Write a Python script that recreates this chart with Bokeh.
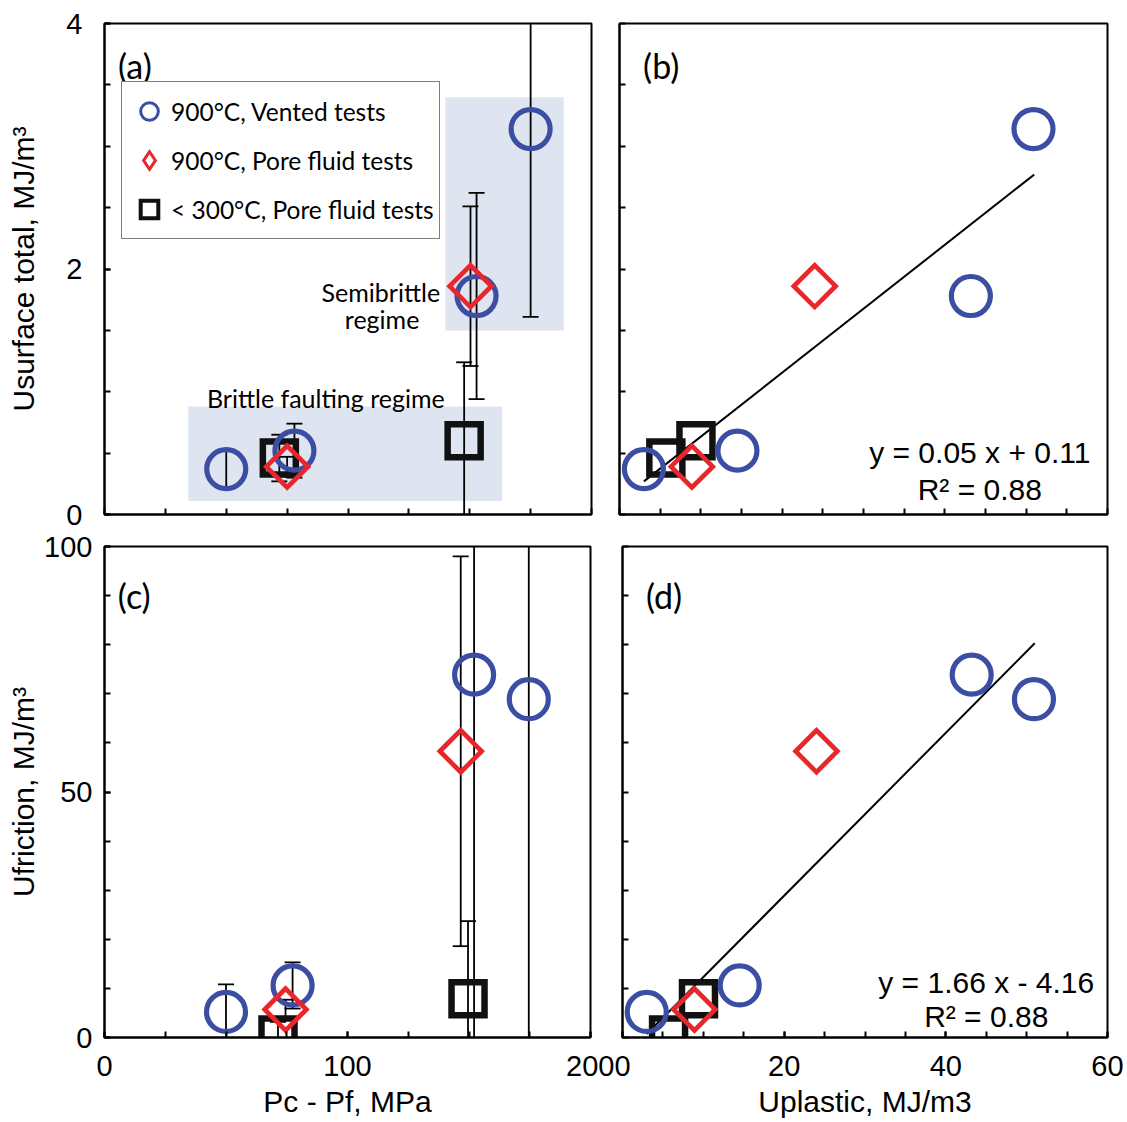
import numpy as np
from bokeh.plotting import figure
from bokeh.models import Range1d, FixedTicker, Legend, LegendItem
from bokeh.layouts import column, row
from bokeh.embed import file_html
from bokeh.resources import INLINE
from bokeh.core.properties import value

# ---------------- data ----------------
# Panel (a): Usurface total (MJ/m3) vs Pc - Pf (MPa)
vent_pcpf_a = [50, 78, 152.8, 175]
vent_usurf = [0.37, 0.52, 1.78, 3.14]
vent_usurf_err = [0.15, 0.22, 0.84, 1.53]
pore_pcpf_a = [75, 150.3]
pore_usurf = [0.39, 1.86]
pore_usurf_err = [0.08, 0.65]
cold_pcpf_a = [71.8, 147.7]
cold_usurf = [0.46, 0.60]
cold_usurf_err = [0.19, 0.64]

# Panel (c): Ufriction (MJ/m3) vs Pc - Pf (MPa)
vent_pcpf_c = [50, 77.4, 152.1, 174.6]
vent_ufric = [5.2, 10.6, 73.9, 68.9]
vent_ufric_err = [5.6, 4.7, 110, 110]
pore_pcpf_c = [74.5, 146.6]
pore_ufric = [5.7, 58.3]
pore_ufric_err = [2.0, 39.7]
cold_pcpf_c = [71.4, 149.6]
cold_ufric = [0.5, 7.9]
cold_ufric_err = [2.7, 15.8]

# Panels (b), (d): x = Uplastic (MJ/m3)
vent_uplast = [3.0, 14.5, 43.2, 50.9]
pore_uplast = [8.9, 24.0]
cold_uplast = [5.7, 9.4]

# trend lines
fit_b_x = [3.0, 51.0]
fit_b_y = [0.27, 2.77]
fit_d_x = [3.0, 51.0]
fit_d_y = [0.7, 80.3]
eq_b = ["y = 0.05 x + 0.11", "R\u00b2 = 0.88"]
eq_b_x = [44.3, 44.3]
eq_b_y = [0.506, 0.20]
eq_d = ["y = 1.66 x - 4.16", "R\u00b2 = 0.88"]
eq_d_x = [45.0, 45.0]
eq_d_y = [11.1, 4.35]

# shaded regime boxes in (a)
regime_left = [34.4, 140.0]
regime_right = [163.3, 188.6]
regime_bottom = [0.11, 1.50]
regime_top = [0.88, 3.40]
note_text = ["Brittle faulting regime", "Semibrittle", "regime"]
note_x = [90.9, 113.5, 114.0]
note_y = [0.95, 1.815, 1.596]

legend_labels = ["900\u00b0C, Vented tests", "900\u00b0C, Pore fluid tests", "< 300\u00b0C, Pore fluid tests"]

# ticks
pcpf_minor = [0, 25, 50, 75, 100, 125, 150, 175, 200]
uplast_minor = [0, 5, 10, 15, 20, 25, 30, 35, 40, 45, 50, 55, 60]
usurf_minor = [0, 0.5, 1, 1.5, 2, 2.5, 3, 3.5, 4]
ufric_minor = [0, 10, 20, 30, 40, 50, 60, 70, 80, 90, 100]

# ---------------- style ----------------
BLUE = "#3B4EA3"
RED = "#E8262B"
BLACK = "#111111"
SHADE = "#DEE5F1"
NUMF = "Liberation Sans"
TXTF = "Lato"


def make_fig(w, h, xr, yr, mbl, mbr, mbt, mbb):
    p = figure(width=w, height=h, x_range=Range1d(*xr), y_range=Range1d(*yr),
               output_backend="svg", toolbar_location=None,
               min_border_left=mbl, min_border_right=mbr,
               min_border_top=mbt, min_border_bottom=mbb)
    p.xgrid.visible = False
    p.ygrid.visible = False
    p.outline_line_color = "black"
    p.outline_line_width = 2
    p.outline_line_alpha = 1
    p.background_fill_color = "white"
    p.border_fill_color = "white"
    for ax in (p.xaxis[0], p.yaxis[0]):
        ax.axis_line_width = 2
        ax.axis_line_color = "black"
        ax.major_tick_in = 6
        ax.major_tick_out = 0
        ax.minor_tick_in = 6
        ax.minor_tick_out = 0
        ax.major_tick_line_width = 2
        ax.minor_tick_line_width = 2
        ax.major_tick_line_color = "black"
        ax.minor_tick_line_color = "black"
        ax.major_label_text_font = NUMF
        ax.major_label_text_font_size = "29px"
        ax.major_label_text_color = "black"
        ax.axis_label_text_font = NUMF
        ax.axis_label_text_font_size = "30px"
        ax.axis_label_text_font_style = "normal"
        ax.axis_label_text_color = "black"
    return p


def ticks(ax, major, minor):
    ax.ticker = FixedTicker(ticks=major, minor_ticks=minor)


def errbars(p, xs, ys, es):
    lo = [y - e for y, e in zip(ys, es)]
    hi = [y + e for y, e in zip(ys, es)]
    p.segment(x0=xs, y0=lo, x1=xs, y1=hi, line_color="black", line_width=1.8)
    p.scatter(x=list(xs) + list(xs), y=lo + hi, marker="dash", size=16,
              line_color="black", line_width=1.8)


def markers(p, cx, cy, px, py, sx, sy):
    r_sq = p.scatter(x=sx, y=sy, marker="square", size=33, fill_color=None,
                     line_color=BLACK, line_width=6.5, line_join="miter")
    r_ci = p.scatter(x=cx, y=cy, marker="circle", size=39, fill_color=None,
                     line_color=BLUE, line_width=5.2)
    r_di = p.scatter(x=px, y=py, marker="square", angle=np.pi / 4, size=29.5,
                     fill_color=None, line_color=RED, line_width=4.7, line_join="miter")
    return r_ci, r_di, r_sq


def panel_tag(p, x, y, t):
    p.text(x=[x], y=[y], text=[t], text_align="left", text_baseline="alphabetic",
           text_font=value(TXTF), text_font_size="34px", text_color="black")


# ---------------- panel (a) ----------------
pa = make_fig(605, 530, (0, 200), (0, 4), 104, 14, 23, 16)
ticks(pa.xaxis[0], [], pcpf_minor)
ticks(pa.yaxis[0], [0, 2, 4], usurf_minor)
pa.yaxis[0].major_label_standoff = 22
pa.yaxis[0].axis_label = "Usurface total, MJ/m\u00b3"
pa.yaxis[0].axis_label_standoff = 23
pa.quad(left=regime_left, right=regime_right, bottom=regime_bottom, top=regime_top,
        fill_color=SHADE, line_color=None)
pa.text(x=note_x, y=note_y, text=note_text, text_align="center", text_baseline="alphabetic",
        text_font=value(TXTF), text_font_size="25px", text_color="black")
errbars(pa, vent_pcpf_a, vent_usurf, vent_usurf_err)
errbars(pa, pore_pcpf_a, pore_usurf, pore_usurf_err)
errbars(pa, cold_pcpf_a, cold_usurf, cold_usurf_err)
# zero-size copies of the series: they draw nothing in the panel, only the key symbols
lg_sq = pa.scatter(x=cold_pcpf_a, y=cold_usurf, marker="square", size=0, fill_color=None,
                   line_color=BLACK, line_width=4, line_join="miter")
lg_ci = pa.scatter(x=vent_pcpf_a, y=vent_usurf, marker="circle", size=0, fill_color=None,
                   line_color=BLUE, line_width=3)
lg_di = pa.scatter(x=pore_pcpf_a, y=pore_usurf, marker="diamond", size=0,
                   fill_color=None, line_color=RED, line_width=3, line_join="miter")
markers(pa, vent_pcpf_a, vent_usurf, pore_pcpf_a, pore_usurf, cold_pcpf_a, cold_usurf)
panel_tag(pa, 5.5, 3.657, "(a)")

legend = Legend(items=[LegendItem(label=legend_labels[0], renderers=[lg_ci]),
                       LegendItem(label=legend_labels[1], renderers=[lg_di]),
                       LegendItem(label=legend_labels[2], renderers=[lg_sq])],
                location=(17, 275), margin=0, padding=5, spacing=1,
                glyph_width=44, glyph_height=48, label_height=48, label_standoff=-5,
                label_text_font=TXTF, label_text_font_size="24.5px", label_text_color="black",
                border_line_color="black", border_line_width=1.5,
                background_fill_color="white", background_fill_alpha=1)
pa.add_layout(legend)

# ---------------- panel (b) ----------------
pb = make_fig(520, 530, (0, 60), (0, 4), 14, 18, 23, 16)
ticks(pb.xaxis[0], [], uplast_minor)
ticks(pb.yaxis[0], [], usurf_minor)
pb.yaxis[0].major_label_standoff = 0
pb.line(fit_b_x, fit_b_y, line_color="black", line_width=2)
markers(pb, vent_uplast, vent_usurf, pore_uplast, pore_usurf, cold_uplast, cold_usurf)
pb.text(x=eq_b_x, y=eq_b_y, text=eq_b, text_align="center", text_baseline="alphabetic",
        text_font=value(NUMF), text_font_size="30px", text_color="black")
panel_tag(pb, 2.9, 3.657, "(b)")

# ---------------- panel (c) ----------------
pc = make_fig(614, 591, (0, 200), (0, 100), 104, 24, 16, 84)
ticks(pc.xaxis[0], [0, 100, 200], pcpf_minor)
ticks(pc.yaxis[0], [0, 50, 100], ufric_minor)
pc.yaxis[0].major_label_standoff = 12
pc.yaxis[0].axis_label = "Ufriction, MJ/m\u00b3"
pc.yaxis[0].axis_label_standoff = 1
pc.xaxis[0].major_label_standoff = 18
pc.xaxis[0].axis_label = "Pc - Pf, MPa"
pc.xaxis[0].axis_label_standoff = 6
errbars(pc, vent_pcpf_c, vent_ufric, vent_ufric_err)
errbars(pc, pore_pcpf_c, pore_ufric, pore_ufric_err)
errbars(pc, cold_pcpf_c, cold_ufric, cold_ufric_err)
markers(pc, vent_pcpf_c, vent_ufric, pore_pcpf_c, pore_ufric, cold_pcpf_c, cold_ufric)
panel_tag(pc, 5.5, 90.0, "(c)")

# ---------------- panel (d) ----------------
pd_ = make_fig(511, 591, (0, 60), (0, 100), 8, 18, 16, 84)
ticks(pd_.xaxis[0], [0, 20, 40, 60], uplast_minor)
ticks(pd_.yaxis[0], [], ufric_minor)
pd_.yaxis[0].major_label_standoff = 0
pd_.xaxis[0].major_label_standoff = 18
pd_.xaxis[0].axis_label = "Uplastic, MJ/m3"
pd_.xaxis[0].axis_label_standoff = 6
pd_.line(fit_d_x, fit_d_y, line_color="black", line_width=2)
markers(pd_, vent_uplast, vent_ufric, pore_uplast, pore_ufric, cold_uplast, cold_ufric)
pd_.text(x=eq_d_x, y=eq_d_y, text=eq_d, text_align="center", text_baseline="alphabetic",
         text_font=value(NUMF), text_font_size="30px", text_color="black")
panel_tag(pd_, 2.9, 90.0, "(d)")

layout = column(row(pa, pb), row(pc, pd_))
open("out.html", "w").write(file_html(layout, INLINE))
